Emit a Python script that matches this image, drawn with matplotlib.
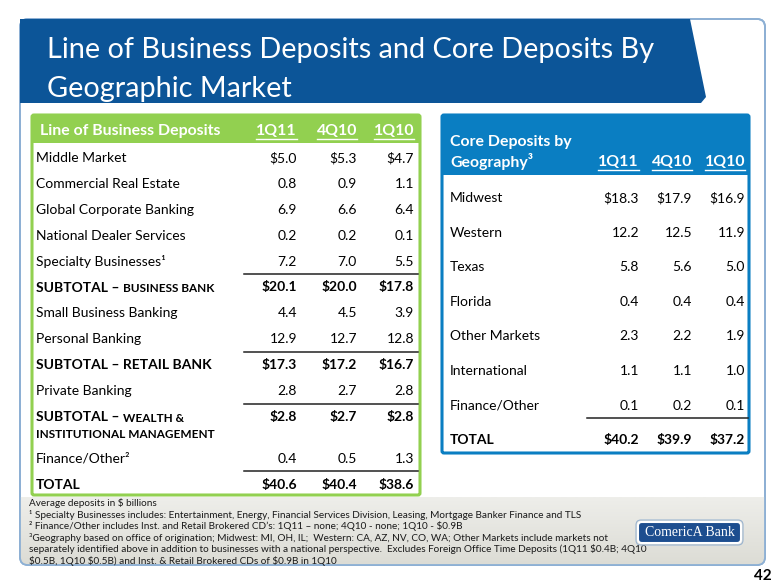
import matplotlib
matplotlib.use('Agg')
import matplotlib.pyplot as plt
from matplotlib.patches import FancyBboxPatch, Polygon, Rectangle
import numpy as np

plt.rcParams['font.family'] = ['Lato', 'DejaVu Sans']

# ---- data ----
title_lines = ['Line of Business Deposits and Core Deposits By', 'Geographic Market']
periods = ['1Q11', '4Q10', '1Q10']

lob_header = 'Line of Business Deposits'
lob_labels = ['Middle Market', 'Commercial Real Estate', 'Global Corporate Banking',
              'National Dealer Services', 'Specialty Businesses\u00b9',
              ('SUBTOTAL \u2013 ', 'BUSINESS BANK'), 'Small Business Banking',
              'Personal Banking', 'SUBTOTAL \u2013 RETAIL BANK', 'Private Banking',
              ('SUBTOTAL \u2013 ', 'WEALTH &', 'INSTITUTIONAL MANAGEMENT'),
              'Finance/Other\u00b2', 'TOTAL']
lob_1q11 = [5.0, 0.8, 6.9, 0.2, 7.2, 20.1, 4.4, 12.9, 17.3, 2.8, 2.8, 0.4, 40.6]
lob_4q10 = [5.3, 0.9, 6.6, 0.2, 7.0, 20.0, 4.5, 12.7, 17.2, 2.7, 2.7, 0.5, 40.4]
lob_1q10 = [4.7, 1.1, 6.4, 0.1, 5.5, 17.8, 3.9, 12.8, 16.7, 2.8, 2.8, 1.3, 38.6]
lob_dollar = [0, 5, 8, 10, 12]
lob_bold = [5, 8, 10, 12]

geo_header = ['Core Deposits by', 'Geography\u00b3']
geo_labels = ['Midwest', 'Western', 'Texas', 'Florida', 'Other Markets',
              'International', 'Finance/Other', 'TOTAL']
geo_1q11 = [18.3, 12.2, 5.8, 0.4, 2.3, 1.1, 0.1, 40.2]
geo_4q10 = [17.9, 12.5, 5.6, 0.4, 2.2, 1.1, 0.2, 39.9]
geo_1q10 = [16.9, 11.9, 5.0, 0.4, 1.9, 1.0, 0.1, 37.2]
geo_dollar = [0, 7]
geo_bold = [7]

footnotes = [
    'Average deposits in $ billions',
    '\u00b9 Specialty Businesses includes: Entertainment, Energy, Financial Services Division, Leasing, Mortgage Banker Finance and TLS',
    '\u00b2 Finance/Other includes Inst. and Retail Brokered CD\u2019s: 1Q11 \u2013 none; 4Q10 - none; 1Q10 - $0.9B',
    '\u00b3Geography based on office of origination; Midwest: MI, OH, IL;  Western: CA, AZ, NV, CO, WA; Other Markets include markets not',
    'separately identified above in addition to businesses with a national perspective.  Excludes Foreign Office Time Deposits (1Q11 $0.4B; 4Q10',
    '$0.5B, 1Q10 $0.5B) and Inst. & Retail Brokered CDs of $0.9B in 1Q10',
]
page_no = '42'

# ---- colours ----
navy = '#0C5598'
green = '#92D050'
blue = '#0A7EC2'
frame_c = '#8DB0D4'

fig = plt.figure(figsize=(7.8, 5.85), dpi=100)
ax = fig.add_axes([0, 0, 1, 1])
ax.set_xlim(0, 780)
ax.set_ylim(585, 0)
ax.axis('off')
fig.canvas.draw()
rend = fig.canvas.get_renderer()


def width(t):
    return t.get_window_extent(rend).width


# outer frame + grey footnote band
frame = FancyBboxPatch((20, 19), 745, 546, boxstyle='round,pad=0,rounding_size=8',
                       fc='white', ec=frame_c, lw=1.3, zorder=1)
ax.add_patch(frame)
grad = np.linspace(0, 1, 50).reshape(-1, 1)
im = ax.imshow(grad, extent=(20, 765, 565, 497), cmap=plt.cm.colors.LinearSegmentedColormap.from_list(
    'g', ['#EEEEEA', '#DCDCD5']), aspect='auto', zorder=1.5)
im.set_clip_path(frame)
ax.add_patch(FancyBboxPatch((20, 19), 745, 546, boxstyle='round,pad=0,rounding_size=8',
                            fc='none', ec=frame_c, lw=1.3, zorder=2))

# title banner
ax.add_patch(Polygon([(20, 19), (690, 19), (706, 97), (701, 103), (20, 103)],
                     closed=True, fc=navy, ec='none', zorder=3))
for i, line in enumerate(title_lines):
    ax.text(47, 50 + 39 * i, line, color='white', fontsize=20.8, va='center', ha='left', zorder=4)

# ---- left table ----
lx0, lx1, ly0, ly1 = 32, 420, 115, 495
ax.add_patch(Rectangle((lx0, ly0), lx1 - lx0, 28, fc=green, ec='none', zorder=3))
ax.add_patch(FancyBboxPatch((lx0, ly0), lx1 - lx0, ly1 - ly0, boxstyle='round,pad=0,rounding_size=2',
                            fc='none', ec=green, lw=2.2, zorder=4))
ax.text(40, 131, lob_header, color='white', fontsize=11.4, fontweight='bold', va='center', zorder=5)
lcols = [297, 357, 414]
for x, p in zip(lcols, periods):
    t = ax.text(x, 131, p, color='white', fontsize=11.4, fontweight='bold', va='center', ha='right', zorder=5)
    w = width(t)
    ax.plot([x - w, x], [139, 139], color='white', lw=1, zorder=5)

fs = 10
for i, lab in enumerate(lob_labels):
    y = 158 + 25.9 * i + (16 if i >= 11 else 0)
    bold = i in lob_bold
    fw = 'bold' if bold else 'normal'
    if isinstance(lab, tuple):
        t = ax.text(36, y, lab[0], fontsize=fs, fontweight='bold', va='center', zorder=5)
        ax.text(36 + width(t), y + 1, lab[1], fontsize=fs - 1.5, fontweight='bold', va='center', zorder=5)
        if len(lab) > 2:
            ax.text(36, y + 17, lab[2], fontsize=fs - 1.5, fontweight='bold', va='center', zorder=5)
    else:
        ax.text(36, y, lab, fontsize=fs, fontweight=fw, va='center', zorder=5)
    for x, vals in zip(lcols, [lob_1q11, lob_4q10, lob_1q10]):
        s = ('$' if i in lob_dollar else '') + f'{vals[i]:.1f}'
        ax.text(x, y, s, fontsize=fs, fontweight=fw, va='center', ha='right', zorder=5)
    if i in lob_bold:
        ax.plot([244, 418], [y - 13.5, y - 13.5], color='#222222', lw=1.1, zorder=5)

# ---- right table ----
rx0, rx1, ry0, ry1 = 442, 749, 115, 453
ax.add_patch(Rectangle((rx0, ry0), rx1 - rx0, 60, fc=blue, ec='none', zorder=3))
ax.add_patch(FancyBboxPatch((rx0, ry0), rx1 - rx0, ry1 - ry0, boxstyle='round,pad=0,rounding_size=2',
                            fc='none', ec=blue, lw=2.2, zorder=4))
ax.text(450, 142, geo_header[0], color='white', fontsize=11.4, fontweight='bold', va='center', zorder=5)
ax.text(450, 162, geo_header[1], color='white', fontsize=11.4, fontweight='bold', va='center', zorder=5)
rcols = [639, 692, 745]
for x, p in zip(rcols, periods):
    t = ax.text(x, 162, p, color='white', fontsize=11.4, fontweight='bold', va='center', ha='right', zorder=5)
    w = width(t)
    ax.plot([x - w, x], [170, 170], color='white', lw=1, zorder=5)

for i, lab in enumerate(geo_labels):
    y = 198 + 34.6 * i
    fw = 'bold' if i in geo_bold else 'normal'
    ax.text(450, y, lab, fontsize=fs, fontweight=fw, va='center', zorder=5)
    for x, vals in zip(rcols, [geo_1q11, geo_4q10, geo_1q10]):
        s = ('$' if i in geo_dollar else '') + f'{vals[i]:.1f}'
        ax.text(x, y, s, fontsize=fs, fontweight=fw, va='center', ha='right', zorder=5)
    if i in geo_bold:
        ax.plot([587, 748], [y - 22, y - 22], color='#222222', lw=1.1, zorder=5)

# ---- footnotes ----
for i, line in enumerate(footnotes):
    ax.text(29, 503 + 11.6 * i, line, fontsize=7.2, va='center', color='#1a1a1a', zorder=5)

# logo
ax.add_patch(FancyBboxPatch((638, 522), 103, 21, boxstyle='round,pad=0,rounding_size=4',
                            fc='#1D4E8F', ec='white', lw=1.5, zorder=5))
ax.add_patch(FancyBboxPatch((636, 520), 107, 25, boxstyle='round,pad=0,rounding_size=5',
                            fc='none', ec='#9AB4D0', lw=0.8, zorder=5))
ax.text(689.5, 532.5, 'ComericA Bank', color='white', fontsize=10, family='Liberation Serif',
        va='center', ha='center', zorder=6)

ax.text(772, 576, page_no, fontsize=11, fontweight='bold', va='center', ha='right', zorder=5)

fig.savefig('out.png', dpi=100)
